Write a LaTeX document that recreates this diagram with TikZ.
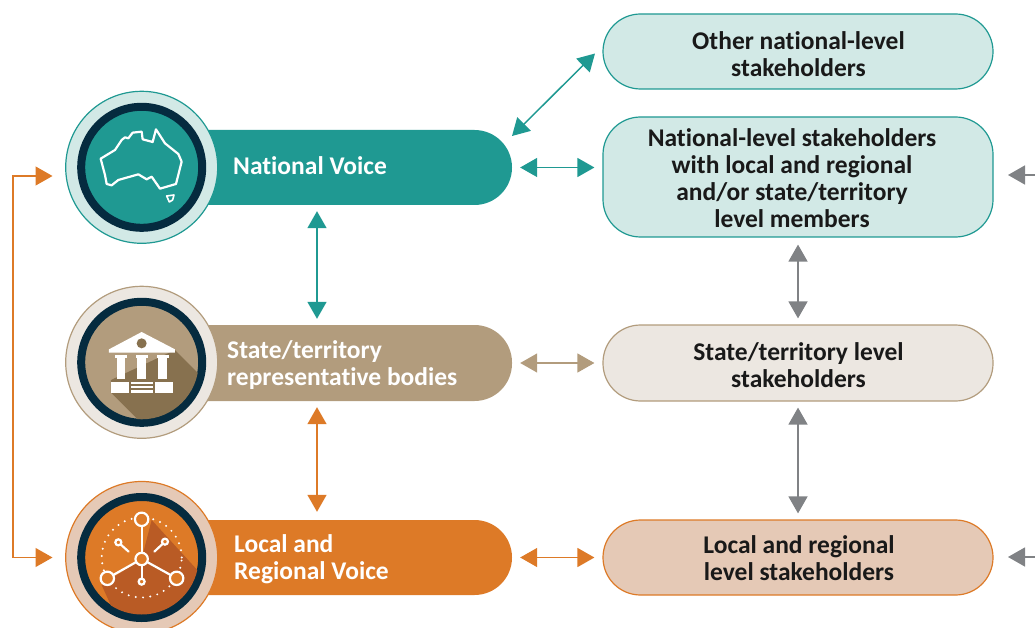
\documentclass[tikz,border=0pt]{standalone}
\usepackage{fontspec}
\setmainfont{Carlito}[Ligatures=NoCommon]
\usetikzlibrary{arrows.meta}
\definecolor{teal1}{HTML}{1F9992}
\definecolor{teal2}{HTML}{D2E9E6}
\definecolor{tan1}{HTML}{B29C7D}
\definecolor{tan2}{HTML}{ECE7E1}
\definecolor{tan3}{HTML}{87714F}
\definecolor{or1}{HTML}{DD7A27}
\definecolor{or2}{HTML}{E5C9B6}
\definecolor{or3}{HTML}{B95B25}
\definecolor{navy}{HTML}{052B3F}
\definecolor{grey1}{HTML}{808285}
\tikzset{
  barbox/.style={draw=none,fill=#1,minimum width=390pt,minimum height=75.5pt,rounded corners=37.5pt,inner sep=0pt},
  sidebox/.style n args={2}{draw=#1,line width=1.2pt,fill=#2,minimum width=390pt,rounded corners=37.5pt,inner sep=0pt},
  sidelabel/.style={align=center,text=black!90,inner sep=0pt,font=\fontsize{25.5}{27}\bfseries\selectfont},
  barlabel/.style={anchor=west,align=left,text=white,inner sep=0pt,font=\fontsize{25.5}{27}\bfseries\selectfont},
  link/.style={draw=#1,<->,>={Triangle[length=17pt,width=19pt,fill=#1]}},
  thicklink/.style={link=#1,line width=1.5pt},
  thinlink/.style={link=#1,line width=1.3pt},
  iconline/.style={draw=white,line width=2.2pt,line join=round,line cap=round},
}
\newcommand{\medal}[4]{%
  \fill[#3] (141.7,#1) circle (76pt);
  \draw[#2,line width=1.2pt] (141.7,#1) circle (76pt);
  \fill[#2] (141.7,#1) circle (60pt);
  \draw[navy,line width=8pt] (141.7,#1) circle (60.5pt);
}
\begin{document}
\begin{tikzpicture}[x=1pt,y=-1pt]
\clip (0,0) rectangle (1035,628);
% bars
\node[barbox=teal1,minimum height=75pt] (natbar) at (317,167.5) {};
\node[barbox=tan1,minimum height=76pt] (statebar) at (317,363) {};
\node[barbox=or1,minimum height=75pt] (localbar) at (317,557.5) {};
% medals
\medal{167.3}{teal1}{teal2}{}
\medal{362.3}{tan1}{tan2}{}
\medal{557.5}{or1}{or2}{}
% Australia
\begin{scope}[shift={(50,80)},x=0.3333pt,y=-0.3333pt]
\draw[iconline] (152,236)--(195,210)--(215,180)--(225,172)--(235,175)--(248,158)--(275,155)--(278,178)--(308,186)--(318,148)--(345,190)--(385,222)--(395,245)--(378,312)--(330,326)--(305,290)--(290,298)--(265,283)--(205,300)--(185,316)--(170,312)--(165,285)--cycle;
\draw[iconline,line width=1.6pt] (350,348)--(372,345)--(368,360)--(358,366)--cycle;
\end{scope}
% bank
\begin{scope}
\clip (141.7,362.3) circle (57pt);
\begin{scope}[shift={(50,280)},x=0.3333pt,y=-0.3333pt]
\fill[tan3] (375,210)--(520,355)--(520,500)--(345,500)--(183,338)--(183,300)--cycle;
\end{scope}
\end{scope}
\begin{scope}[shift={(50,280)},x=0.3333pt,y=-0.3333pt]
\fill[white] (177,208)--(275,156)--(375,208)--(375,218)--(177,218)--cycle;
\fill[tan3] (275,190) circle (5pt);
\foreach \cx in {213,275,338}{
  \fill[white] (\cx-18,225) rectangle (\cx+18,235);
  \fill[white] (\cx-13,235) rectangle (\cx+13,297);
}
\fill[white] (183,305) rectangle (237,338);
\fill[white] (315,305) rectangle (368,338);
\fill[white] (244,305) rectangle (308,312);
\fill[white] (244,318) rectangle (308,325);
\fill[white] (244,331) rectangle (308,338);
\end{scope}
% network
\begin{scope}
\clip (141.7,557.5) circle (57pt);
\begin{scope}[shift={(0,470)},x=0.3333pt,y=-0.3333pt]
\fill[or3] (455,150)--(610,320)--(610,500)--(375,500)--(305,345)--(425,267)--cycle;
\end{scope}
\end{scope}
\draw[white,line width=2.2pt,dash pattern=on 0pt off 7.3pt,line cap=round] (141.7,557.5) circle (40pt);
\begin{scope}[shift={(0,470)},x=0.3333pt,y=-0.3333pt]
\draw[iconline] (425,148)--(425,335);
\draw[iconline] (322,325)--(425,267)--(530,325);
\draw[iconline] (355,217)--(386,245);
\draw[iconline] (495,215)--(463,245);
\foreach \px/\py/\rr in {425/148/6.7,322/325/6.7,530/325/6.7,425/267/6.2,425/335/3,355/217/3,495/215/3}{
  \filldraw[fill=or1,draw=white,line width=2.2pt] (\px,\py) circle (\rr pt);
}
\end{scope}
% bar labels
\node[barlabel] (natlab) at (233,166) {National Voice};
\node[barlabel] (statelab) at (227,365.5) {State/territory\\representative bodies};
\node[barlabel] (locallab) at (234,559.5) {Local and\\Regional Voice};
% right boxes
\node[sidebox={teal1}{teal2},minimum height=75pt] (other) at (798,51.5) {};
\node[sidebox={teal1}{teal2},minimum height=120pt] (natl) at (798,177) {};
\node[sidebox={tan1}{tan2},minimum height=76pt] (state) at (798,363) {};
\node[sidebox={or1}{or2},minimum height=75pt] (local) at (798,557.5) {};
\node[sidelabel] (otherlab) at (798.5,54) {Other national-level\\stakeholders};
\node[sidelabel] (natllab) at (792,178.5) {National-level stakeholders\\with local and regional\\and/or state/territory\\level members};
\node[sidelabel] (statelabr) at (798.5,365) {State/territory level\\stakeholders};
\node[sidelabel] (locallabr) at (799,558) {Local and regional\\level stakeholders};
% free ends
\coordinate (diagA) at (512,136);
\coordinate (diagB) at (595,53.5);
\coordinate (greyA) at (1008,175);
\coordinate (greyAe) at (1036,175);
\coordinate (greyB) at (1008,557);
\coordinate (greyBe) at (1036,557);
\coordinate (brA) at (52.5,176);
\coordinate (brAc) at (13,176);
\coordinate (brB) at (52.5,557.5);
\coordinate (brBc) at (13,557.5);
% connectors
\draw[thicklink=teal1] (diagA) -- (diagB);
\draw[thicklink=teal1,shorten <=8pt,shorten >=8pt] (natbar.east) -- (natbar.east -| natl.west);
\draw[thicklink=teal1,shorten <=6pt,shorten >=6pt] (natbar.south) -- (statebar.north);
\draw[thinlink=tan1,shorten <=8pt,shorten >=8pt] (statebar.east) -- (state.west);
\draw[thicklink=or1,shorten <=6pt,shorten >=8pt] (statebar.south) -- (localbar.north);
\draw[thicklink=or1,shorten <=8pt,shorten >=8pt] (localbar.east) -- (local.west);
\draw[thicklink=grey1,shorten <=7pt,shorten >=6pt] (natl.south) -- (state.north);
\draw[thicklink=grey1,shorten <=6pt,shorten >=6pt] (state.south) -- (local.north);
\draw[draw=grey1,line width=1.5pt,<-,>={Triangle[length=17pt,width=19pt,fill=grey1]}] (greyA) -- (greyAe);
\draw[draw=grey1,line width=1.5pt,<-,>={Triangle[length=17pt,width=19pt,fill=grey1]}] (greyB) -- (greyBe);
\draw[thinlink=or1] (brA) -- (brAc) -- (brBc) -- (brB);
\end{tikzpicture}
\end{document}
